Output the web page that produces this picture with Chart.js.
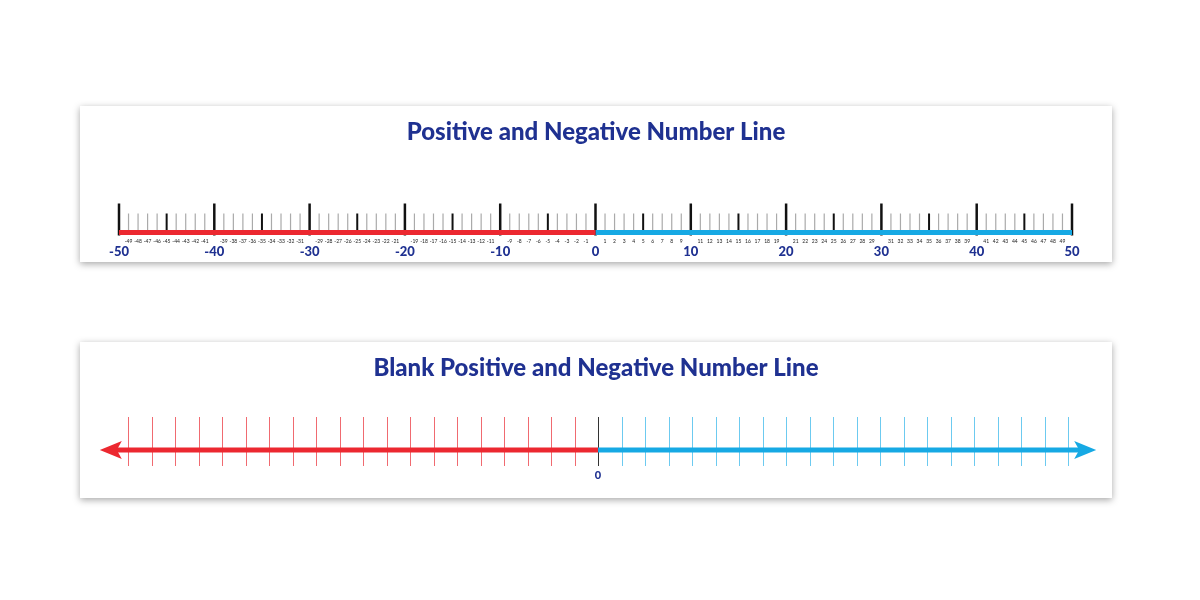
<!DOCTYPE html>
<html><head><meta charset="utf-8">
<script src="https://cdn.jsdelivr.net/npm/chart.js@4"></script>
<style>
body{margin:0;background:#fff;width:1200px;height:600px;overflow:hidden;font-family:Lato,sans-serif}
.panel{position:absolute;left:80px;width:1032px;height:156px;background:#fff;box-shadow:0 2px 7px rgba(0,0,0,0.35)}
canvas{display:block}
</style></head><body>
<div class="panel" style="top:106px"><canvas id="c1" width="1032" height="156"></canvas></div>
<div class="panel" style="top:342px"><canvas id="c2" width="1032" height="156"></canvas></div>
<script>
const titles = ["Positive and Negative Number Line", "Blank Positive and Negative Number Line"];
const negSegment1 = [-50, 0];
const posSegment1 = [0, 50];
const ticks1 = Array.from({length: 101}, (_, i) => i - 50);
const negSegment2 = [-20.6, 0];
const posSegment2 = [0, 20.6];
const ticks2 = Array.from({length: 41}, (_, i) => i - 20);
const arrowEnds = [-21.2, 21.2];
const zeroLabel = "0";

const RED = '#ec2830', BLUE = '#16a9e4', NAVY = '#1f3191';

function seg(a, color) { return {data: a.map(x => ({x, y: 0})), borderColor: color, borderWidth: 5, pointRadius: 0, fill: false, clip: false}; }

function drawTitle(ctx, chart, text) {
  ctx.save(); ctx.fillStyle = NAVY; ctx.font = '900 24px Lato'; ctx.textAlign = 'center'; ctx.textBaseline = 'middle';
  ctx.fillText(text, chart.width / 2, 26); ctx.restore();
}

const p1 = {id: 'p1', beforeDatasetsDraw(chart) {
  const ctx = chart.ctx, xs = chart.scales.x, y0 = chart.scales.y.getPixelForValue(0);
  ctx.save();
  ticks1.forEach(v => {
    const x = xs.getPixelForValue(v);
    ctx.beginPath();
    if (v % 10 === 0) { ctx.strokeStyle = '#111'; ctx.lineWidth = 2.5; ctx.moveTo(x, y0 - 29); ctx.lineTo(x, y0 + 3); }
    else if (v % 5 === 0) { ctx.strokeStyle = '#111'; ctx.lineWidth = 2; ctx.moveTo(x, y0 - 19); ctx.lineTo(x, y0 + 1); }
    else { ctx.strokeStyle = '#aaa'; ctx.lineWidth = 1.2; ctx.moveTo(x, y0 - 19); ctx.lineTo(x, y0); }
    ctx.stroke();
  });
  ctx.restore();
}, afterDraw(chart) {
  const ctx = chart.ctx, xs = chart.scales.x, y0 = chart.scales.y.getPixelForValue(0);
  drawTitle(ctx, chart, titles[0]);
  ctx.save(); ctx.textAlign = 'center'; ctx.textBaseline = 'middle';
  ticks1.forEach(v => {
    const x = xs.getPixelForValue(v);
    if (v % 10 === 0) { ctx.fillStyle = NAVY; ctx.font = '900 13px Lato'; ctx.fillText(String(v), x, y0 + 19); }
    else { ctx.fillStyle = '#222'; ctx.font = '5px Lato'; ctx.fillText(String(v), x, y0 + 9); }
  });
  ctx.restore();
}};

const p2 = {id: 'p2', beforeDatasetsDraw(chart) {
  const ctx = chart.ctx, xs = chart.scales.x, y0 = chart.scales.y.getPixelForValue(0);
  ctx.save(); ctx.lineWidth = 1;
  ticks2.forEach(v => {
    const x = Math.round(xs.getPixelForValue(v)) + 0.5;
    ctx.strokeStyle = v === 0 ? '#333' : (v < 0 ? '#f06a70' : '#6ccaf0');
    ctx.beginPath(); ctx.moveTo(x, y0 - 33); ctx.lineTo(x, y0 + 16); ctx.stroke();
  });
  ctx.restore();
}, afterDraw(chart) {
  const ctx = chart.ctx, xs = chart.scales.x, y0 = chart.scales.y.getPixelForValue(0);
  drawTitle(ctx, chart, titles[1]);
  ctx.save();
  const l = xs.getPixelForValue(arrowEnds[0]), r = xs.getPixelForValue(arrowEnds[1]);
  ctx.fillStyle = RED; ctx.beginPath(); ctx.moveTo(l, y0); ctx.lineTo(l + 22, y0 - 9); ctx.lineTo(l + 17, y0); ctx.lineTo(l + 22, y0 + 9); ctx.closePath(); ctx.fill();
  ctx.fillStyle = BLUE; ctx.beginPath(); ctx.moveTo(r, y0); ctx.lineTo(r - 22, y0 - 9); ctx.lineTo(r - 17, y0); ctx.lineTo(r - 22, y0 + 9); ctx.closePath(); ctx.fill();
  ctx.fillStyle = NAVY; ctx.font = '900 11px Lato'; ctx.textAlign = 'center'; ctx.textBaseline = 'middle';
  ctx.fillText(zeroLabel, xs.getPixelForValue(0), y0 + 25);
  ctx.restore();
}};

function make(id, datasets, min, max, pad, plugin) {
  return new Chart(document.getElementById(id), {
    type: 'line', data: {datasets},
    options: {responsive: false, animation: false, events: [],
      layout: {padding: pad},
      plugins: {legend: {display: false}, tooltip: {enabled: false}},
      scales: {x: {type: 'linear', min, max, display: false}, y: {min: -1, max: 1, display: false}}},
    plugins: [plugin]
  });
}
make('c1', [seg(negSegment1, RED), seg(posSegment1, BLUE)], -50, 50, {left: 39, right: 40, top: 97, bottom: 0}, p1);
make('c2', [seg(negSegment2, RED), seg(posSegment2, BLUE)], -20, 20, {left: 48, right: 44, top: 60, bottom: 0}, p2);
</script></body></html>
